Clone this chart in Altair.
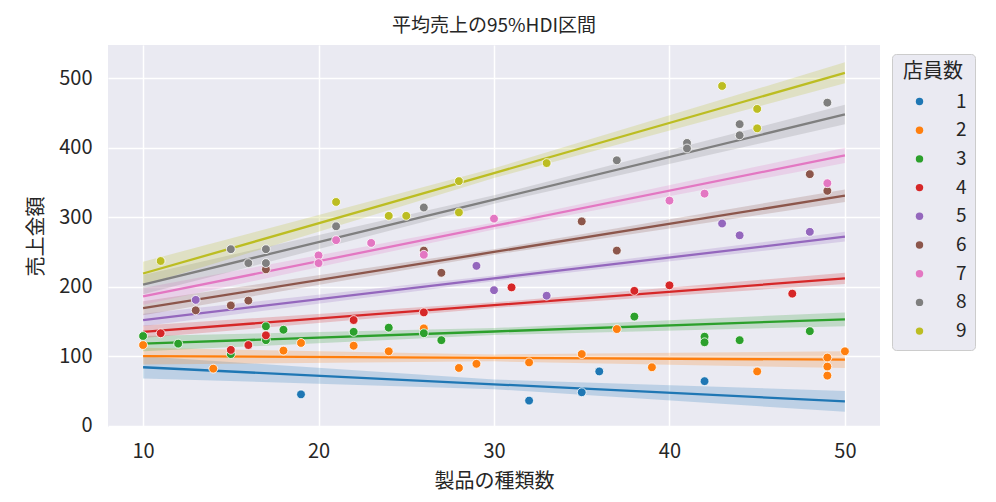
import altair as alt
import pandas as pd

# 店員数 (number of clerks) groups
clerks = ["1", "2", "3", "4", "5", "6", "7", "8", "9"]
palette = ["#1f77b4", "#ff7f0e", "#2ca02c", "#d62728", "#9467bd",
           "#8c564b", "#e377c2", "#7f7f7f", "#bcbd22"]

# observed points per group: 製品の種類数 (x) and 売上金額 (y)
x1 = [19, 32, 35, 36, 42]
y1 = [45, 36, 48, 78, 64]
x2 = [10, 14, 18, 19, 22, 24, 26, 28, 29, 32, 35, 37, 39, 45, 49, 49, 49, 50]
y2 = [116, 82, 108, 119, 115, 107, 140, 83, 89, 91, 103, 139, 84, 78, 98, 85, 72, 107]
x3 = [10, 12, 15, 17, 17, 18, 22, 24, 26, 27, 38, 42, 42, 44, 48]
y3 = [129, 118, 103, 143, 123, 138, 135, 141, 133, 123, 157, 128, 120, 123, 136]
x4 = [11, 15, 16, 17, 22, 26, 31, 38, 40, 47]
y4 = [133, 109, 116, 130, 152, 163, 199, 194, 202, 190]
x5 = [13, 29, 30, 33, 43, 44, 48]
y5 = [181, 230, 195, 187, 291, 274, 279]
x6 = [13, 15, 16, 17, 26, 27, 35, 37, 48, 49]
y6 = [166, 173, 180, 225, 252, 220, 294, 252, 362, 338]
x7 = [20, 20, 21, 23, 26, 30, 40, 42, 49]
y7 = [245, 234, 267, 263, 246, 298, 324, 334, 349]
x8 = [15, 16, 17, 17, 21, 26, 37, 41, 41, 44, 44, 49]
y8 = [254, 234, 254, 234, 287, 314, 382, 407, 399, 434, 418, 465]
x9 = [11, 21, 24, 25, 28, 28, 33, 43, 45, 45]
y9 = [237, 322, 302, 302, 352, 307, 378, 489, 456, 428]

# posterior mean line (at 10 and 50 products) and half width of the 95% HDI band
band_x = [10, 30, 50]
mean_at_10 = [84, 100, 118, 135, 152, 169, 186, 203, 219]
mean_at_50 = [35, 95, 153, 212, 272, 331, 389, 448, 508]
half_10 = [16, 12, 11, 9, 9, 10, 12, 14, 17]
half_30 = [7, 5, 5, 4, 4, 4, 5, 6, 7]
half_50 = [15, 12, 10, 8, 7, 9, 11, 14, 15]

xs = [x1, x2, x3, x4, x5, x6, x7, x8, x9]
ys = [y1, y2, y3, y4, y5, y6, y7, y8, y9]

points = pd.DataFrame([
    {"group": g, "x": a, "y": b}
    for g, gx, gy in zip(clerks, xs, ys) for a, b in zip(gx, gy)
])

band_rows = []
for i, g in enumerate(clerks):
    mid = (mean_at_10[i] + mean_at_50[i]) / 2
    means = [mean_at_10[i], mid, mean_at_50[i]]
    halves = [half_10[i], half_30[i], half_50[i]]
    for bx, m, h in zip(band_x, means, halves):
        band_rows.append({"group": g, "x": bx, "mean": m, "lo": m - h, "hi": m + h})
bands = pd.DataFrame(band_rows)

font = "Noto Sans CJK JP"
ink = "#262626"

x_scale = alt.Scale(domain=[8, 52], nice=False, zero=False)
y_scale = alt.Scale(domain=[-2, 548], nice=False)
color_scale = alt.Scale(domain=clerks, range=palette)

x_axis = alt.Axis(values=[10, 20, 30, 40, 50], title="製品の種類数",
                  labelPadding=14, titlePadding=10)
y_axis = alt.Axis(values=[0, 100, 200, 300, 400, 500], title="売上金額",
                  labelPadding=16, titlePadding=12)

legend = alt.Legend(
    title="店員数", orient="none", legendX=784, legendY=9,
    symbolType="circle", symbolSize=55, symbolOffset=10,
    symbolStrokeWidth=0, symbolOpacity=1,
    labelOffset=27, rowPadding=8.7, titlePadding=10,
    padding=8, titleAnchor="middle",
    fillColor="#EAEAF2", strokeColor="#cccccc", cornerRadius=4,
    titleFontSize=20, labelFontSize=19,
)
color = alt.Color("group:N", scale=color_scale, legend=legend)

band = alt.Chart(bands).mark_area(opacity=0.22).encode(
    x=alt.X("x:Q", scale=x_scale, axis=x_axis),
    y=alt.Y("lo:Q", scale=y_scale, axis=y_axis),
    y2="hi:Q",
    color=color,
)

line = alt.Chart(bands).mark_line(strokeWidth=2.3).encode(
    x=alt.X("x:Q", scale=x_scale),
    y=alt.Y("mean:Q", scale=y_scale),
    color=color,
)

dots = alt.Chart(points).mark_point(
    filled=True, size=78, opacity=1, stroke="white", strokeWidth=0.8
).encode(
    x=alt.X("x:Q", scale=x_scale),
    y=alt.Y("y:Q", scale=y_scale),
    color=color,
)

chart = (band + line + dots).properties(
    width=772,
    height=382,
    title=alt.Title("平均売上の95%HDI区間", fontSize=19, fontWeight="normal",
                    color=ink, offset=9),
    padding={"left": 100, "top": 37, "right": 108, "bottom": 67},
    autosize=alt.AutoSizeParams(type="none"),
).configure(
    font=font,
).configure_view(
    fill="#EAEAF2", strokeWidth=0,
).configure_axis(
    grid=True, gridColor="white", gridWidth=1.5, domain=False, ticks=False,
    labelFont=font, titleFont=font, labelFontSize=20, titleFontSize=20,
    labelColor=ink, titleColor=ink, titleFontWeight="normal",
).configure_legend(
    labelFont=font, titleFont=font, labelColor=ink, titleColor=ink,
    titleFontWeight="normal",
)

chart.save("out.html", embed_options={"renderer": "svg", "actions": False})
